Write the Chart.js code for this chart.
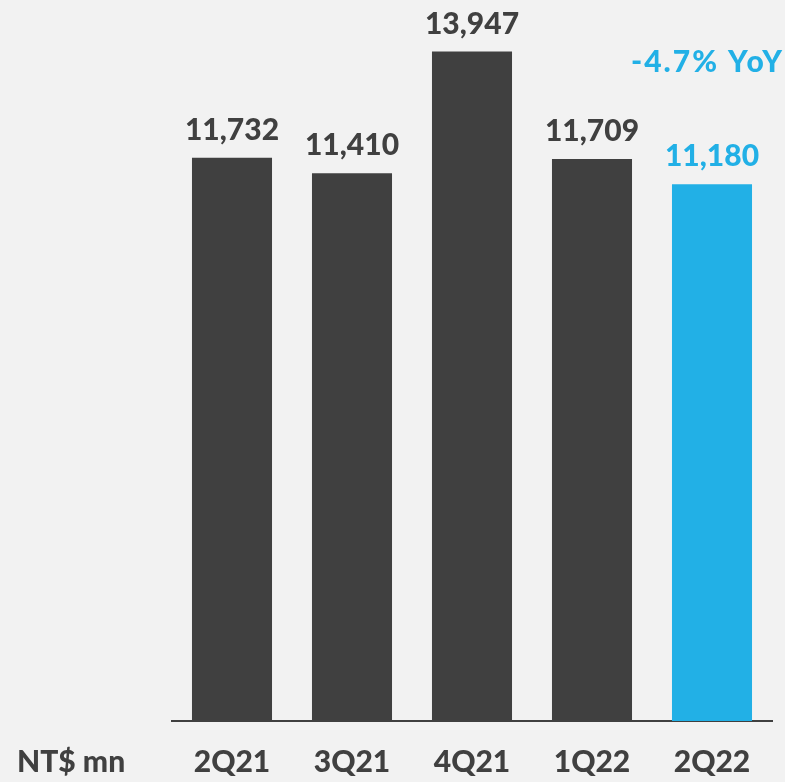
<!DOCTYPE html>
<html>
<head>
<meta charset="utf-8">
<script src="https://cdn.jsdelivr.net/npm/chart.js@4"></script>
<style>
  html, body { margin: 0; padding: 0; background: #f2f2f2; }
  #wrap { width: 785px; height: 782px; }
</style>
</head>
<body>
<div id="wrap"><canvas id="chart"></canvas></div>
<script>
const quarters = ["2Q21", "3Q21", "4Q21", "1Q22", "2Q22"];
const revenue = [11732, 11410, 13947, 11709, 11180];
const yoyNote = "-4.7% YoY";
const unitLabel = "NT$ mn";

const DARK = "#404040";
const BLUE = "#22b0e6";
const FONT = "Lato, 'DejaVu Sans', sans-serif";
const WEIGHT = "900";

const barColors = revenue.map((v, i) => i === revenue.length - 1 ? BLUE : DARK);

// value above each bar, the YoY note over the last one and the unit on the left
const labelPlugin = {
  id: "labels",
  afterDatasetsDraw(chart) {
    const ctx = chart.ctx;
    const meta = chart.getDatasetMeta(0);
    ctx.save();
    ctx.font = WEIGHT + " 30px " + FONT;
    ctx.textAlign = "center";
    ctx.textBaseline = "alphabetic";
    meta.data.forEach((bar, i) => {
      ctx.fillStyle = barColors[i];
      ctx.fillText(revenue[i].toLocaleString("en-US"), bar.x, bar.y - 18);
    });
    const last = meta.data[meta.data.length - 1];
    ctx.fillStyle = BLUE;
    ctx.textAlign = "right";
    ctx.letterSpacing = "2px";
    ctx.fillText(yoyNote, chart.chartArea.right + 12, last.y - 18 - 94);
    ctx.letterSpacing = "0px";

    ctx.fillStyle = DARK;
    ctx.textAlign = "left";
    ctx.textBaseline = "middle";
    ctx.fillText(unitLabel, 17, 762);
    ctx.restore();
  }
};

new Chart(document.getElementById("chart"), {
  type: "bar",
  data: {
    labels: quarters,
    datasets: [{
      data: revenue,
      backgroundColor: barColors,
      borderWidth: 0,
      categoryPercentage: 1,
      barPercentage: 0.667
    }]
  },
  options: {
    responsive: true,
    maintainAspectRatio: false,
    animation: false,
    layout: { padding: { left: 172, right: 13, top: 1, bottom: 0 } },
    plugins: {
      legend: { display: false },
      tooltip: { enabled: false }
    },
    scales: {
      x: {
        grid: { display: false, drawTicks: false },
        border: { display: true, color: DARK, width: 2 },
        ticks: {
          color: DARK,
          padding: 23,
          font: { family: FONT, size: 30, weight: WEIGHT }
        },
        afterFit(scale) { scale.height = 61; }
      },
      y: {
        display: false,
        min: 0,
        max: 15000
      }
    }
  },
  plugins: [labelPlugin]
});
</script>
</body>
</html>
